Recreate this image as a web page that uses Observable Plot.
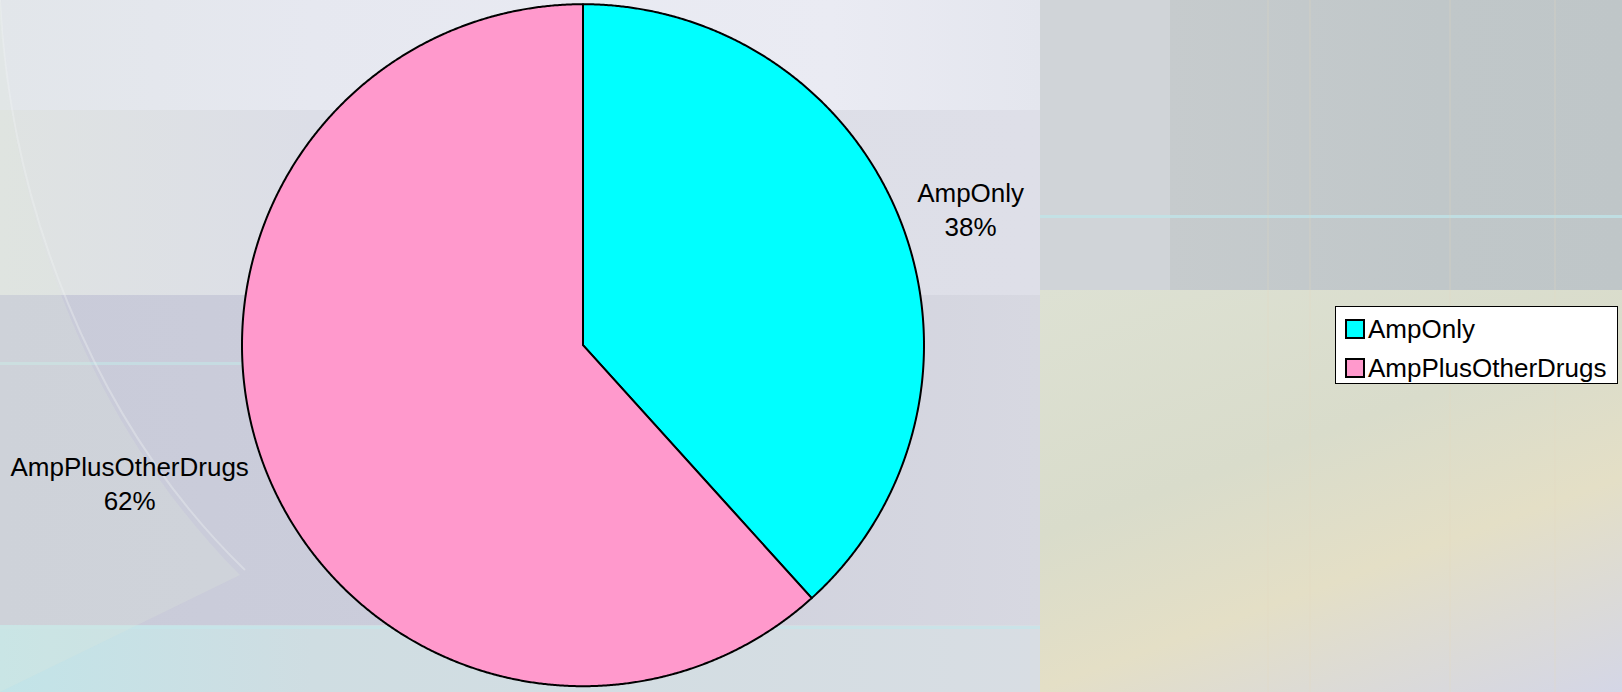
<!DOCTYPE html>
<html><head><meta charset="utf-8">
<script src="https://cdn.jsdelivr.net/npm/d3@7"></script>
<script src="https://cdn.jsdelivr.net/npm/@observablehq/plot@0.6"></script>
<style>
html,body{margin:0;padding:0;width:1622px;height:692px;overflow:hidden;font-family:"Liberation Sans",Arial,sans-serif;background:#d6d8e0;}
#bg{position:absolute;left:0;top:0;width:1622px;height:692px;overflow:hidden;}
.b{position:absolute;}
#chart{position:absolute;left:0;top:0;}
#legend{position:absolute;left:1335px;top:306px;width:281px;height:76px;border:1px solid #000;background:#fff;font-size:26px;color:#000;}
.row{position:absolute;left:9px;height:30px;display:flex;align-items:center;white-space:nowrap;}
.sw{width:16px;height:16px;border:2px solid #000;margin-right:3px;}
</style></head>
<body>
<div id="bg">
  <div class="b" style="left:0;top:0;width:1040px;height:110px;background:linear-gradient(90deg,#e2e6ea 0%,#e6e8f0 30%,#eaebf3 80%,#e4e6ee 100%);"></div>
  <div class="b" style="left:0;top:110px;width:1040px;height:185px;background:linear-gradient(90deg,#dfe3e2 0%,#dcdee7 30%,#dedfe8 100%);"></div>
  <div class="b" style="left:0;top:295px;width:1040px;height:330px;background:linear-gradient(90deg,#c9cbd9 0%,#cbcddb 40%,#d7d8e1 100%);"></div>
  <div class="b" style="left:0;top:625px;width:1040px;height:67px;background:linear-gradient(90deg,#c2e4e8 0%,#cfdde2 30%,#d8dde3 100%);"></div>
  <div class="b" style="left:1040px;top:0;width:130px;height:290px;background:#d0d4d8;"></div>
  <div class="b" style="left:1170px;top:0;width:452px;height:290px;background:linear-gradient(90deg,#c6cbcd 0%,#c0c7c9 60%,#bfc6c8 100%);"></div>
  <div class="b" style="left:1040px;top:290px;width:582px;height:402px;background:linear-gradient(160deg,#dde1d3 0%,#d9dccb 40%,#e4dfc6 65%,#d4d6e6 100%);"></div>
  <div class="b" style="left:1040px;top:215px;width:582px;height:3px;background:#bfe3e8;opacity:.8;"></div>
  <div class="b" style="left:0;top:362px;width:260px;height:3px;background:#c4e2e6;opacity:.7;"></div>
  <div class="b" style="left:0;top:626px;width:1040px;height:3px;background:#c4e6ea;opacity:.7;"></div>
  <svg class="b" width="1622" height="692" style="left:0;top:0;">
    <path d="M0,0 C10,200 90,420 245,570" fill="none" stroke="#f2f4f4" stroke-width="2" opacity="0.35"/>
    <path d="M0,0 C8,200 85,420 240,575 L0,692 Z" fill="#e0e6dc" opacity="0.25"/>
    <g stroke="#e6d9c0" stroke-width="1" opacity="0.4">
      <line x1="1268" y1="0" x2="1268" y2="692"/>
      <line x1="1310" y1="0" x2="1310" y2="692"/>
      <line x1="1450" y1="0" x2="1450" y2="692"/>
      <line x1="1555" y1="0" x2="1555" y2="692"/>
    </g>
  </svg>
</div>
<div id="chart"></div>
<div id="legend"></div>
<script>
const categories = ["AmpOnly", "AmpPlusOtherDrugs"];
const values = [38.3, 61.7];
const percentLabels = ["38%", "62%"];
const colors = ["#00FFFF", "#FF99CC"];

const W = 1622, H = 692;
const cx = 582.5, cy = 344.7, R = 341;
const xDomain = [-cx / R, (W - cx) / R];
const yDomain = [-(H - cy) / R, cy / R];

const arcs = d3.pie().sort(null).value(d => d.value)(categories.map((c, i) => ({name: c, value: values[i], pct: percentLabels[i]})));

const pts = [];
for (const a of arcs) {
  const name = a.data.name;
  pts.push({name, x: 0, y: 0});
  const n = Math.max(2, Math.ceil((a.endAngle - a.startAngle) / (Math.PI / 720)));
  for (let k = 0; k <= n; k++) {
    const t = a.startAngle + (a.endAngle - a.startAngle) * k / n;
    pts.push({name, x: Math.sin(t), y: Math.cos(t)});
  }
  pts.push({name, x: 0, y: 0});
}

const ctx = document.createElement("canvas").getContext("2d");
ctx.font = '26px "Liberation Sans", Arial, sans-serif';
const labels = arcs.map(a => {
  const m = (a.startAngle + a.endAngle) / 2;
  const dx = Math.sin(m), dy = Math.cos(m);
  const w = Math.max(ctx.measureText(a.data.name).width, ctx.measureText(a.data.pct).width);
  const side = dx >= 0 ? 1 : -1;
  return {x: dx * 1.05 + side * (w / 2) / R, y: dy * 1.12, text: a.data.name + "\n" + a.data.pct};
});

const chart = Plot.plot({
  width: W, height: H,
  margin: 0,
  x: {domain: xDomain, axis: null},
  y: {domain: yDomain, axis: null},
  color: {domain: categories, range: colors},
  style: {background: "transparent", fontFamily: '"Liberation Sans", Arial, sans-serif'},
  marks: [
    Plot.line(pts, {x: "x", y: "y", z: "name", fill: "name", stroke: "#000", strokeWidth: 2, strokeLinejoin: "round", curve: "linear"}),
    Plot.text(labels, {x: "x", y: "y", text: "text", fontSize: 26, lineHeight: 1.3, textAnchor: "middle", lineAnchor: "middle", fill: "#000"})
  ]
});
document.getElementById("chart").appendChild(chart);

const legend = document.getElementById("legend");
categories.forEach((c, i) => {
  const row = document.createElement("div");
  row.className = "row";
  row.style.top = (7 + i * 39) + "px";
  const sw = document.createElement("div");
  sw.className = "sw";
  sw.style.background = chart.scale("color").apply(c);
  const t = document.createElement("span");
  t.textContent = c;
  row.appendChild(sw); row.appendChild(t);
  legend.appendChild(row);
});
</script>
</body></html>
